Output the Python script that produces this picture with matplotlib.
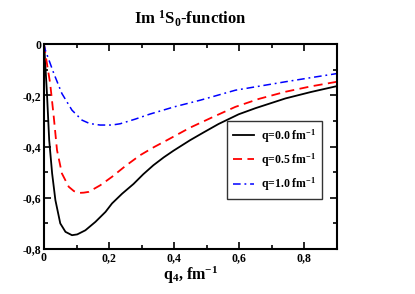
import matplotlib
matplotlib.use("Agg")
import matplotlib.pyplot as plt
from matplotlib.ticker import MultipleLocator

plt.rcParams["font.family"] = ["Liberation Serif", "DejaVu Serif"]
plt.rcParams["font.weight"] = "bold"
plt.rcParams["mathtext.fontset"] = "custom"
plt.rcParams["mathtext.rm"] = "Liberation Serif:bold"
plt.rcParams["mathtext.bf"] = "Liberation Serif:bold"
plt.rcParams["mathtext.it"] = "Liberation Serif:bold"
plt.rcParams["mathtext.default"] = "bf"

# values
q4_a = [0.0, 0.002, 0.009, 0.016, 0.025, 0.035, 0.05, 0.066, 0.086, 0.102, 0.127,
        0.158, 0.189, 0.209, 0.24, 0.275, 0.305, 0.336, 0.368, 0.398, 0.449, 0.49,
        0.536, 0.598, 0.65, 0.742, 0.82, 0.9]
im_a = [0.0, -0.036, -0.19, -0.375, -0.505, -0.609, -0.70, -0.733, -0.746, -0.743,
        -0.727, -0.694, -0.655, -0.622, -0.584, -0.546, -0.508, -0.473, -0.442,
        -0.416, -0.375, -0.345, -0.312, -0.274, -0.250, -0.212, -0.187, -0.164]

q4_b = [0.0, 0.004, 0.019, 0.030, 0.04, 0.055, 0.076, 0.092, 0.107, 0.122, 0.137,
        0.173, 0.209, 0.25, 0.295, 0.338, 0.378, 0.449, 0.52, 0.588, 0.66, 0.742,
        0.82, 0.9]
im_b = [0.0, -0.036, -0.154, -0.284, -0.414, -0.505, -0.557, -0.574, -0.581, -0.580,
        -0.577, -0.551, -0.518, -0.476, -0.434, -0.402, -0.375, -0.326, -0.284,
        -0.245, -0.214, -0.186, -0.165, -0.147]

q4_c = [0.0, 0.004, 0.03, 0.055, 0.086, 0.117, 0.14, 0.172, 0.209, 0.234, 0.28,
        0.326, 0.40, 0.48, 0.588, 0.742, 0.82, 0.9]
im_c = [0.0, -0.023, -0.114, -0.193, -0.258, -0.297, -0.310, -0.316, -0.316, -0.311,
        -0.293, -0.273, -0.245, -0.219, -0.18, -0.147, -0.131, -0.115]

labels = ["q=0.0 fm$^{-1}$", "q=0.5 fm$^{-1}$", "q=1.0 fm$^{-1}$"]

x_ticks = [0, 0.2, 0.4, 0.6, 0.8]
x_tick_labels = ["0", "0,2", "0,4", "0,6", "0,8"]
y_ticks = [0, -0.2, -0.4, -0.6, -0.8]
y_tick_labels = ["0", "-0,2", "-0,4", "-0,6", "-0,8"]

fig = plt.figure(figsize=(4.15, 2.94), dpi=100)
ax = fig.add_axes([0.106, 0.153, 0.706, 0.697])

ax.plot(q4_a, im_a, color="black", lw=1.3, label=labels[0])
ax.plot(q4_b, im_b, color="red", lw=1.3, dashes=(5, 3), label=labels[1])
ax.plot(q4_c, im_c, color="blue", lw=1.1, dashes=(5, 2.5, 1.2, 2.5), label=labels[2])

ax.set_xlim(0, 0.9)
ax.set_ylim(-0.8, 0)
ax.set_xticks(x_ticks)
ax.set_xticklabels(x_tick_labels)
ax.set_yticks(y_ticks)
ax.set_yticklabels(y_tick_labels)
ax.xaxis.set_minor_locator(MultipleLocator(0.1))
ax.yaxis.set_minor_locator(MultipleLocator(0.1))
ax.tick_params(which="both", direction="in", top=True, right=True, width=1.2,
               labelsize=8.5, pad=2)
ax.tick_params(which="major", length=5)
ax.tick_params(which="minor", length=3)
for s in ax.spines.values():
    s.set_linewidth(1.5)

ax.set_title("Im $^1$S$_0$-function", fontsize=12, fontweight="bold", pad=14)
ax.set_xlabel("q$_4$, fm$^{-1}$", fontsize=11.5, fontweight="bold", labelpad=1)

leg = ax.legend(loc="lower right", bbox_to_anchor=(0.949, 0.244), borderaxespad=0,
                fontsize=8.5, frameon=True, fancybox=False, edgecolor="black",
                handlelength=1.8, handletextpad=0.6, borderpad=0.5, labelspacing=0.55)
leg.get_frame().set_linewidth(1.0)

fig.savefig("out.png", dpi=100)
